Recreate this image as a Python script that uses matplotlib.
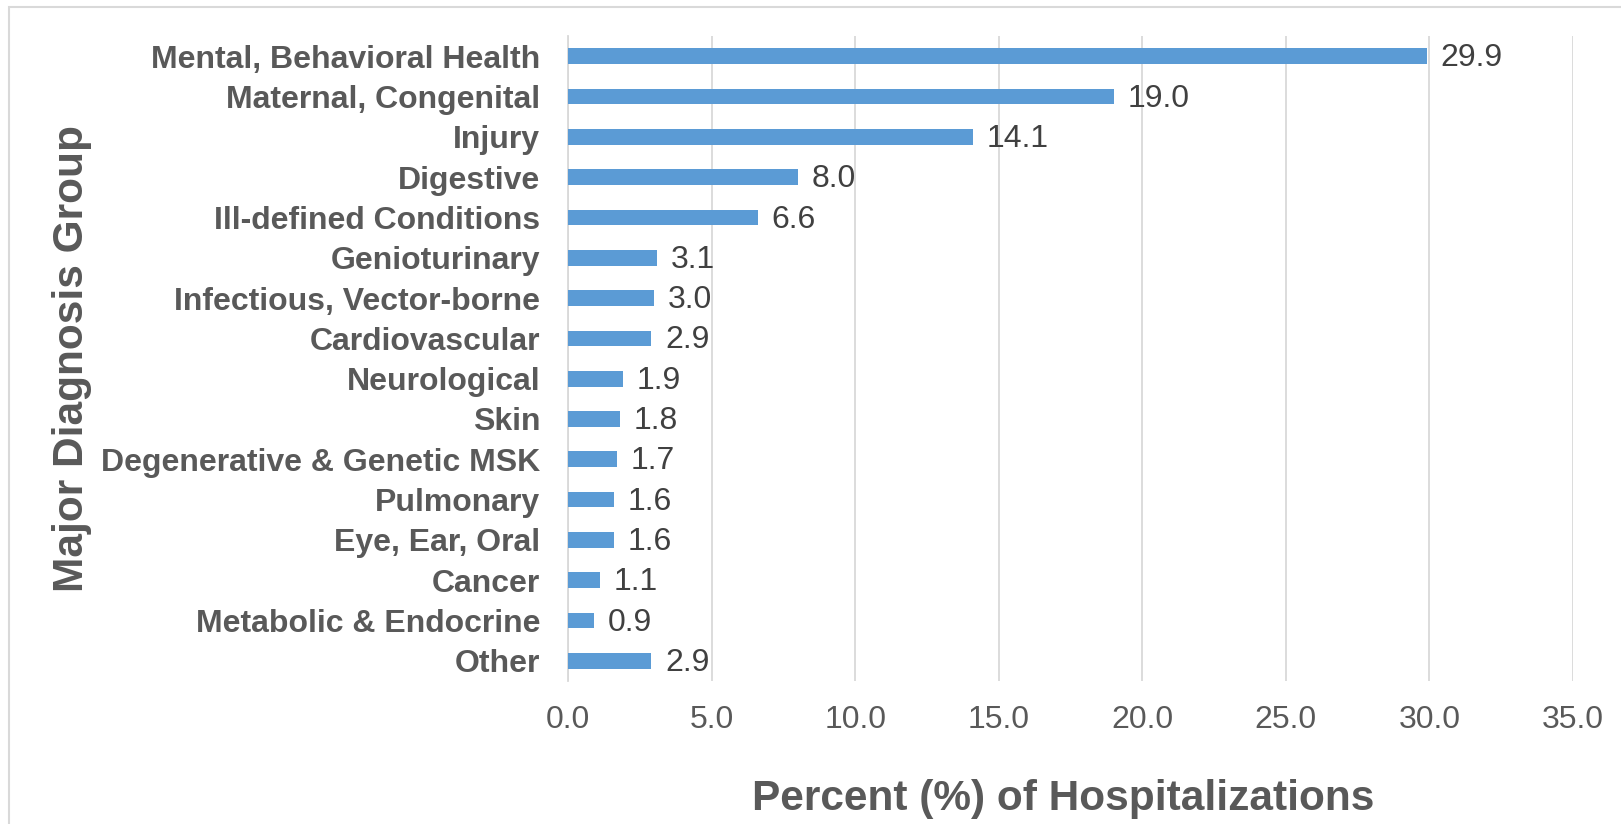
import matplotlib.pyplot as plt
from matplotlib.patches import Rectangle

plt.rcParams['font.family'] = ['Liberation Sans', 'DejaVu Sans']

categories = ["Mental, Behavioral Health", "Maternal, Congenital", "Injury",
              "Digestive", "Ill-defined Conditions", "Genioturinary",
              "Infectious, Vector-borne", "Cardiovascular", "Neurological",
              "Skin", "Degenerative & Genetic MSK", "Pulmonary",
              "Eye, Ear, Oral", "Cancer", "Metabolic & Endocrine", "Other"]
values = [29.9, 19.0, 14.1, 8.0, 6.6, 3.1, 3.0, 2.9, 1.9, 1.8, 1.7, 1.6,
          1.6, 1.1, 0.9, 2.9]
xticks = [0, 5, 10, 15, 20, 25, 30, 35]

grid_color = '#D9D9D9'
text_gray = '#595959'

fig = plt.figure(figsize=(16.21, 8.24), dpi=100)
ax = fig.add_axes([0.3504, 0.1735, 0.6200, 0.7828])

pos = list(range(len(categories)))
ax.barh(pos, values, height=0.39, color='#5B9BD5', zorder=3)
for p, v in zip(pos, values):
    ax.annotate(f"{v:.1f}", (v, p), xytext=(10, -1.5), textcoords='offset points',
                ha='left', va='center', fontsize=23, color='#404040')

ax.set_ylim(len(categories) - 0.5, -0.5)
ax.set_yticks(pos)
ax.set_yticklabels(categories, fontsize=23, fontweight='bold', color=text_gray)
ax.set_xlim(0, 35)
ax.set_xticks(xticks)
ax.set_xticklabels([f"{t:.1f}" for t in xticks], fontsize=23, color=text_gray)
ax.tick_params(axis='y', length=0, pad=20)
ax.tick_params(axis='x', length=0, pad=17)

ax.grid(axis='x', color=grid_color, linewidth=1.3, zorder=0)
for s in ['top', 'right', 'bottom']:
    ax.spines[s].set_visible(False)
ax.spines['left'].set_color(grid_color)
ax.spines['left'].set_linewidth(1.3)

ax.set_xlabel("Percent (%) of Hospitalizations", fontsize=30.5,
              fontweight='bold', color=text_gray, va='center')
ax.xaxis.set_label_coords(0.4925, -0.183)
ax.set_ylabel("Major Diagnosis Group", fontsize=30.5, fontweight='bold',
              color=text_gray, va='center', ha='center')
ax.yaxis.set_label_coords(-0.4935, 0.5)

# chart border (cut off at right and bottom like the source)
fig.patches.append(Rectangle((9 / 1621, -0.05), 1.2, 1 - 7 / 824 + 0.05,
                             transform=fig.transFigure, fill=False,
                             edgecolor=grid_color, linewidth=1.5))

fig.savefig("out.png", dpi=100)
